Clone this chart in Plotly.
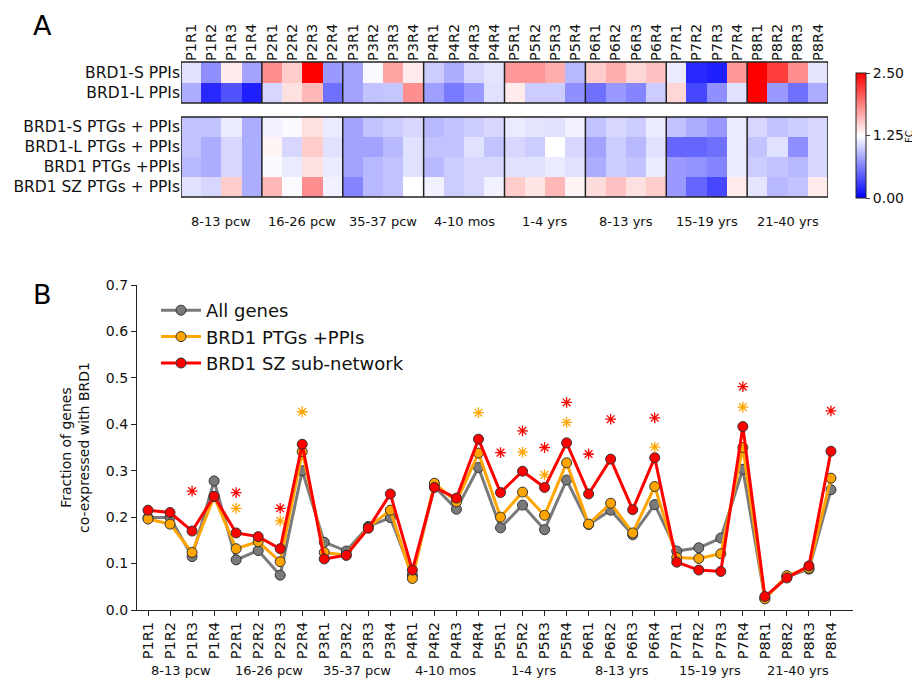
import plotly.graph_objects as go

FONT = "DejaVu Sans"

columns = [f"P{p}R{r}" for p in range(1, 9) for r in range(1, 5)]
periods = ["8-13 pcw", "16-26 pcw", "35-37 pcw", "4-10 mos",
           "1-4 yrs", "8-13 yrs", "15-19 yrs", "21-40 yrs"]

# ---- Panel A heatmap (fold change) ----
rows_top = ["BRD1-S PPIs", "BRD1-L PPIs"]
fc_s_ppi = [1.10, 0.70, 1.35, 0.80, 1.80, 1.50, 2.50, 0.75,
            0.80, 1.22, 1.70, 1.35, 1.00, 0.85, 1.05, 1.12,
            1.75, 1.75, 1.65, 0.90, 1.50, 1.65, 1.45, 1.55,
            1.15, 0.20, 0.15, 1.75, 2.50, 2.20, 1.80, 1.12]
fc_l_ppi = [0.85, 0.20, 0.40, 0.15, 1.05, 1.40, 1.60, 0.55,
            0.80, 0.95, 0.97, 1.80, 0.78, 0.60, 0.75, 1.10,
            1.35, 1.00, 1.00, 0.70, 0.55, 0.75, 0.65, 1.00,
            1.45, 0.35, 0.70, 1.10, 2.50, 0.75, 0.55, 0.85]

rows_bottom = ["BRD1-S PTGs + PPIs", "BRD1-L PTGs + PPIs",
               "BRD1 PTGs +PPIs", "BRD1 SZ PTGs + PPIs"]
fc_s_ptg = [0.95, 0.95, 1.15, 0.85, 1.18, 1.22, 1.40, 1.15,
            0.80, 0.95, 1.00, 1.05, 0.90, 0.95, 1.00, 1.05,
            1.15, 1.12, 1.10, 1.18, 0.95, 1.05, 1.00, 1.15,
            0.95, 0.85, 0.75, 1.15, 1.05, 0.95, 1.00, 1.05]
fc_l_ptg = [0.95, 0.85, 1.05, 0.85, 1.30, 1.05, 1.50, 1.10,
            0.80, 0.80, 0.90, 1.10, 0.95, 0.95, 1.10, 0.95,
            1.05, 1.00, 1.25, 1.05, 0.80, 1.00, 0.90, 1.10,
            0.50, 0.50, 0.55, 1.15, 0.95, 1.10, 0.70, 1.05]
fc_brd1_ptg = [0.90, 0.85, 1.05, 0.85, 1.22, 1.15, 1.40, 1.15,
               0.80, 0.90, 0.95, 1.10, 0.90, 1.00, 1.05, 1.05,
               1.10, 1.10, 1.15, 1.10, 0.85, 1.00, 0.95, 1.15,
               0.75, 0.72, 0.65, 1.15, 1.00, 0.95, 0.90, 1.05]
fc_sz_ptg = [1.10, 1.05, 1.50, 0.85, 1.60, 1.23, 1.80, 1.18,
             0.65, 0.90, 0.95, 1.25, 1.18, 1.00, 1.05, 1.18,
             1.50, 1.38, 1.60, 1.30, 1.42, 1.55, 1.40, 1.50,
             0.75, 0.50, 0.35, 1.35, 1.12, 0.90, 0.95, 1.35]

# ---- Panel B lines (fraction co-expressed) ----
all_genes = [0.199, 0.199, 0.115, 0.278, 0.108, 0.128, 0.075, 0.300,
             0.146, 0.127, 0.180, 0.199, 0.075, 0.266, 0.217, 0.307,
             0.177, 0.226, 0.173, 0.280, 0.184, 0.215, 0.162, 0.227,
             0.127, 0.134, 0.155, 0.303, 0.025, 0.072, 0.088, 0.259]
brd1_ptgs = [0.196, 0.185, 0.124, 0.244, 0.132, 0.147, 0.104, 0.341,
             0.124, 0.118, 0.178, 0.215, 0.068, 0.273, 0.233, 0.338,
             0.200, 0.254, 0.204, 0.317, 0.185, 0.230, 0.166, 0.266,
             0.113, 0.111, 0.121, 0.350, 0.024, 0.074, 0.090, 0.284]
brd1_sz = [0.215, 0.210, 0.170, 0.245, 0.166, 0.158, 0.132, 0.357,
           0.110, 0.118, 0.176, 0.250, 0.086, 0.264, 0.241, 0.368,
           0.253, 0.299, 0.264, 0.360, 0.250, 0.325, 0.216, 0.328,
           0.103, 0.086, 0.083, 0.395, 0.029, 0.069, 0.095, 0.342]

red_star_cols = ["P1R3", "P2R1", "P2R3", "P5R1", "P5R2", "P5R3", "P5R4",
                 "P6R1", "P6R2", "P6R4", "P7R4", "P8R4"]
red_star_y = [0.256, 0.253, 0.219, 0.339, 0.386, 0.350, 0.447,
              0.336, 0.411, 0.414, 0.481, 0.429]
orange_star_cols = ["P2R1", "P2R3", "P2R4", "P4R4", "P5R2", "P5R3",
                    "P5R4", "P6R4", "P7R4"]
orange_star_y = [0.219, 0.192, 0.427, 0.425, 0.340, 0.291, 0.404,
                 0.351, 0.437]

# page body margin of 8px: figure sized to fill the rest of the 920x683 window
OFF = 8
W, H = 920 - OFF, 683 - OFF
def px(x):
    return (x - OFF) / W
def py(y):
    return 1 - (y - OFF) / H

bwr = [[0, "rgb(0,0,255)"], [0.5, "rgb(255,255,255)"], [1, "rgb(255,0,0)"]]

fig = go.Figure()

fig.add_trace(go.Heatmap(
    z=[fc_s_ppi, fc_l_ppi], x=columns, y=rows_top,
    xaxis="x", yaxis="y", colorscale=bwr, zmin=0, zmax=2.5,
    colorbar=dict(
        x=px(856), xanchor="left", xpad=0, y=py(198), yanchor="bottom", ypad=0,
        len=125 / H, lenmode="fraction", thickness=10, thicknessmode="pixels",
        tickvals=[0, 1.25, 2.5], ticktext=["0.00", "1.25", "2.50"],
        ticks="outside", ticklen=4, outlinewidth=1, outlinecolor="#222",
        tickfont=dict(family=FONT, size=14, color="#111"),
    ),
))
fig.add_trace(go.Heatmap(
    z=[fc_s_ptg, fc_l_ptg, fc_brd1_ptg, fc_sz_ptg], x=columns, y=rows_bottom,
    xaxis="x", yaxis="y2", colorscale=bwr, zmin=0, zmax=2.5, showscale=False,
))

series = [("All genes", all_genes, "#7a7a7a"),
          ("BRD1 PTGs +PPIs", brd1_ptgs, "#FFA500"),
          ("BRD1 SZ sub-network", brd1_sz, "#FF0000")]
for name, vals, col in series:
    fig.add_trace(go.Scatter(
        x=columns, y=vals, name=name, mode="lines+markers",
        xaxis="x2", yaxis="y3",
        line=dict(color=col, width=3),
        marker=dict(size=10, color=col, line=dict(color="#333", width=1)),
    ))

fig.add_trace(go.Scatter(
    x=orange_star_cols, y=orange_star_y, mode="markers", showlegend=False,
    xaxis="x2", yaxis="y3", hoverinfo="skip",
    marker=dict(symbol="asterisk-open", size=9, color="#FFA500",
                line=dict(color="#FFA500", width=1.3)),
))
fig.add_trace(go.Scatter(
    x=red_star_cols, y=red_star_y, mode="markers", showlegend=False,
    xaxis="x2", yaxis="y3", hoverinfo="skip",
    marker=dict(symbol="asterisk-open", size=9, color="#FF0000",
                line=dict(color="#FF0000", width=1.3)),
))

ncol = len(columns)
shapes = []
for yref in ["y domain", "y2 domain"]:
    shapes.append(dict(type="rect", xref="x", yref=yref, x0=-0.5, x1=ncol - 0.5,
                       y0=0, y1=1, line=dict(color="#222", width=1.5)))
    for g in range(1, len(periods)):
        xb = 4 * g - 0.5
        shapes.append(dict(type="line", xref="x", yref=yref, x0=xb, x1=xb,
                           y0=0, y1=1, line=dict(color="#222", width=1.5)))

annotations = []
for g, lab in enumerate(periods):
    for xr, yy in [("x", py(222)), ("x2", py(670))]:
        annotations.append(dict(text=lab, x=4 * g + 1.5, xref=xr, y=yy, yref="paper",
                                yanchor="middle", showarrow=False,
                                font=dict(family=FONT, size=13, color="#111")))
annotations.append(dict(text="A", x=px(42), y=py(26), xref="paper", yref="paper",
                        xanchor="center", yanchor="middle", borderpad=0,
                        showarrow=False, font=dict(family=FONT, size=27, color="#000")))
annotations.append(dict(text="B", x=px(42), y=py(294), xref="paper", yref="paper",
                        xanchor="center", yanchor="middle", borderpad=0,
                        showarrow=False, font=dict(family=FONT, size=27, color="#000")))
annotations.append(dict(text="FC", x=px(909), y=py(137), xref="paper", yref="paper",
                        xanchor="center", yanchor="middle", textangle=-90,
                        borderpad=0, showarrow=False,
                        font=dict(family=FONT, size=10, color="#111")))

fig.update_layout(
    width=W, height=H, margin=dict(l=0, r=0, t=0, b=0, autoexpand=False),
    paper_bgcolor="white", plot_bgcolor="white",
    font=dict(family=FONT, color="#111"),
    shapes=shapes, annotations=annotations,
    xaxis=dict(domain=[px(181), px(828)], anchor="y", side="top",
               range=[-0.5, ncol - 0.5], tickangle=-90, showgrid=False,
               ticks="", tickfont=dict(family=FONT, size=14.5), zeroline=False,
               automargin=False),
    yaxis=dict(domain=[py(103), py(62)], anchor="x", autorange="reversed",
               showgrid=False, ticks="", tickfont=dict(family=FONT, size=15.5),
               automargin=False),
    yaxis2=dict(domain=[py(197), py(117)], anchor="x", autorange="reversed",
                showgrid=False, ticks="", tickfont=dict(family=FONT, size=15.5),
                automargin=False),
    xaxis2=dict(domain=[px(137), px(853)], anchor="y3", range=[-0.5, ncol],
                tickangle=-90, showgrid=False, showline=True, linecolor="#222",
                linewidth=1.2, ticks="outside", ticklen=5, tickcolor="#222",
                tickfont=dict(family=FONT, size=14.5), zeroline=False,
                automargin=False),
    yaxis3=dict(domain=[py(610), py(285)], anchor="x2", range=[0, 0.7],
                dtick=0.1, tickformat=".1f", showgrid=False, showline=True,
                linecolor="#222", linewidth=1.2, ticks="outside", ticklen=5,
                tickcolor="#222", tickfont=dict(family=FONT, size=14), zeroline=False,
                automargin=False,
                title=dict(text="Fraction of genes<br>co-expressed with BRD1",
                           font=dict(family=FONT, size=14), standoff=12)),
    legend=dict(x=px(156), y=py(292), xanchor="left", yanchor="top",
                bgcolor="rgba(0,0,0,0)", font=dict(family=FONT, size=18),
                itemwidth=40, tracegroupgap=0),
)

fig.write_html("out.html")
